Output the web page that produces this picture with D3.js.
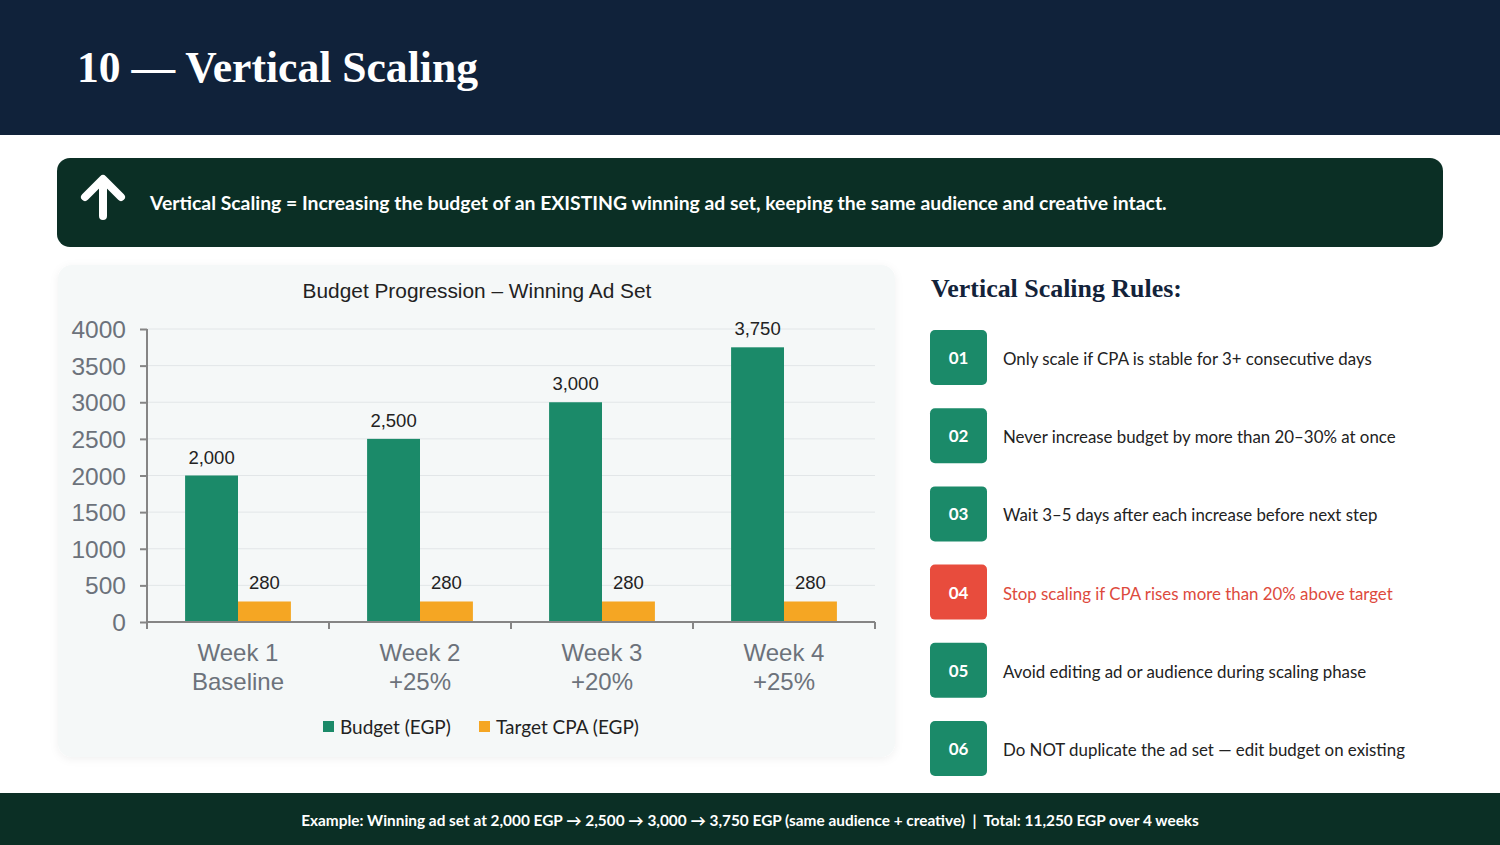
<!DOCTYPE html>
<html>
<head>
<meta charset="utf-8">
<script src="https://cdn.jsdelivr.net/npm/d3@7/dist/d3.min.js"></script>
<style>
  html, body { margin: 0; padding: 0; background: #ffffff; }
  svg { display: block; }
</style>
</head>
<body>
<svg id="slide" width="1500" height="845"></svg>
<script>
// ---------------- DATA ----------------
const weeks = ["Week 1", "Week 2", "Week 3", "Week 4"];
const steps = ["Baseline", "+25%", "+20%", "+25%"];
const budget = [2000, 2500, 3000, 3750];
const targetCPA = [280, 280, 280, 280];
const yTicks = [0, 500, 1000, 1500, 2000, 2500, 3000, 3500, 4000];
const seriesNames = ["Budget (EGP)", "Target CPA (EGP)"];
const ruleNumbers = ["01", "02", "03", "04", "05", "06"];
const ruleTexts = [
  "Only scale if CPA is stable for 3+ consecutive days",
  "Never increase budget by more than 20\u201330% at once",
  "Wait 3\u20135 days after each increase before next step",
  "Stop scaling if CPA rises more than 20% above target",
  "Avoid editing ad or audience during scaling phase",
  "Do NOT duplicate the ad set \u2014 edit budget on existing"
];
const warnRule = [false, false, false, true, false, false];
const slideTitle = "10 \u2014 Vertical Scaling";
const bannerText = "Vertical Scaling = Increasing the budget of an EXISTING winning ad set, keeping the same audience and creative intact.";
const chartTitle = "Budget Progression \u2013 Winning Ad Set";
const rulesTitle = "Vertical Scaling Rules:";
const footerText = "Example: Winning ad set at 2,000 EGP \u2192 2,500 \u2192 3,000 \u2192 3,750 EGP (same audience + creative)  |  Total: 11,250 EGP over 4 weeks";

// ---------------- STYLE ----------------
const C = {
  navy: "#10223a", dark: "#0b2f25", panel: "#f5f8f8",
  green: "#1b8a69", orange: "#f5a623", red: "#e84c3d", redText: "#dd4a3d",
  grid: "#e2e6e8", axis: "#858585", tick: "#6c727b", text: "#222222"
};
const serif = "'Liberation Serif', 'DejaVu Serif', serif";
const sans = "'Liberation Sans', Arial, sans-serif";
const cal = "Lato, 'Open Sans', sans-serif";

const svg = d3.select("#slide");

function fit(sel, target) {
  const n = sel.node();
  const w = n.getComputedTextLength();
  const fs = parseFloat(sel.attr("font-size"));
  if (w > 0) sel.attr("font-size", fs * target / w);
  return sel;
}

// defs
const defs = svg.append("defs");
const f = defs.append("filter").attr("id", "shadow").attr("x", "-5%").attr("y", "-5%").attr("width", "110%").attr("height", "112%");
f.append("feDropShadow").attr("dx", 0).attr("dy", 2).attr("stdDeviation", 4).attr("flood-color", "#000").attr("flood-opacity", 0.06);

// ---------------- HEADER ----------------
svg.append("rect").attr("x", 0).attr("y", 0).attr("width", 1500).attr("height", 135).attr("fill", C.navy);
fit(svg.append("text").attr("x", 77).attr("y", 82).attr("font-family", serif).attr("font-weight", "bold")
  .attr("font-size", 42).attr("fill", "#ffffff").text(slideTitle), 401);

// ---------------- BANNER ----------------
svg.append("rect").attr("x", 57).attr("y", 158).attr("width", 1386).attr("height", 89).attr("rx", 13).attr("fill", C.dark);
svg.append("path").attr("d", "M103,216 L103,180 M85,197 L103,179 L121,197")
  .attr("fill", "none").attr("stroke", "#ffffff").attr("stroke-width", 8)
  .attr("stroke-linecap", "round").attr("stroke-linejoin", "round");
fit(svg.append("text").attr("x", 150).attr("y", 210).attr("font-family", cal).attr("font-weight", "bold")
  .attr("font-size", 19).attr("fill", "#ffffff").text(bannerText), 1018);

// ---------------- CHART PANEL ----------------
svg.append("rect").attr("x", 58).attr("y", 265).attr("width", 837).attr("height", 492).attr("rx", 14)
  .attr("fill", C.panel).attr("filter", "url(#shadow)");
fit(svg.append("text").attr("x", 477).attr("y", 298).attr("text-anchor", "middle").attr("font-family", sans)
  .attr("font-size", 20).attr("fill", C.text).text(chartTitle), 349);

const plot = { left: 147, right: 875, top: 329, bottom: 622 };
const x = d3.scaleBand().domain(weeks).range([plot.left, plot.right]).paddingInner(0).paddingOuter(0);
const xs = d3.scaleBand().domain([0, 1]).range([0, x.bandwidth()]).paddingInner(0).paddingOuter(0.72);
const y = d3.scaleLinear().domain([0, 4000]).range([plot.bottom, plot.top]);

const g = svg.append("g");
// gridlines
g.append("g").selectAll("line").data(yTicks.filter(d => d > 0)).join("line")
  .attr("x1", plot.left).attr("x2", plot.right).attr("y1", d => y(d)).attr("y2", d => y(d))
  .attr("stroke", C.grid).attr("stroke-width", 1);

// bars
const rows = weeks.map((w, i) => ({ week: w, vals: [budget[i], targetCPA[i]] }));
const grp = g.append("g").selectAll("g").data(rows).join("g").attr("transform", d => `translate(${x(d.week)},0)`);
grp.selectAll("rect").data(d => d.vals.map((v, k) => ({ v, k }))).join("rect")
  .attr("x", d => xs(d.k)).attr("width", xs.bandwidth())
  .attr("y", d => y(d.v)).attr("height", d => y(0) - y(d.v))
  .attr("fill", d => d.k === 0 ? C.green : C.orange);
grp.selectAll("text.val").data(d => d.vals.map((v, k) => ({ v, k }))).join("text").attr("class", "val")
  .attr("x", d => xs(d.k) + xs.bandwidth() / 2).attr("y", d => y(d.v) - 12)
  .attr("text-anchor", "middle").attr("font-family", sans).attr("font-size", 18.5).attr("fill", C.text)
  .text(d => d3.format(",")(d.v));

// y axis
const yAxis = g.append("g").attr("transform", `translate(${plot.left},0)`)
  .call(d3.axisLeft(y).tickValues(yTicks).tickSize(7).tickPadding(14).tickFormat(d3.format("d")));
yAxis.select(".domain").attr("stroke", C.axis).attr("stroke-width", 2).attr("d", `M0,${plot.top}V${plot.bottom}`);
yAxis.selectAll(".tick line").attr("stroke", C.axis).attr("stroke-width", 2);
yAxis.selectAll(".tick text").attr("font-family", sans).attr("font-size", 24.5).attr("fill", C.tick).attr("dy", "0.35em");

// x axis
const xAxis = g.append("g").attr("transform", `translate(0,${plot.bottom})`);
xAxis.append("line").attr("x1", plot.left).attr("x2", plot.right).attr("stroke", C.axis).attr("stroke-width", 2);
const bounds = weeks.map(w => x(w)).concat([x(weeks[weeks.length - 1]) + x.bandwidth()]);
xAxis.selectAll("line.tk").data(bounds).join("line").attr("class", "tk")
  .attr("x1", d => d).attr("x2", d => d).attr("y1", 0).attr("y2", 7).attr("stroke", C.axis).attr("stroke-width", 2);
const xl = xAxis.selectAll("text.cat").data(weeks).join("text").attr("class", "cat")
  .attr("text-anchor", "middle").attr("font-family", sans).attr("font-size", 24).attr("fill", C.tick);
xl.append("tspan").attr("x", d => x(d) + x.bandwidth() / 2).attr("y", 39).text(d => d);
xl.append("tspan").attr("x", d => x(d) + x.bandwidth() / 2).attr("y", 68).text((d, i) => steps[i]);

// legend
const legend = svg.append("g");
const legX = [323, 479];
seriesNames.forEach((n, i) => {
  legend.append("rect").attr("x", legX[i]).attr("y", 721).attr("width", 11).attr("height", 11)
    .attr("fill", i === 0 ? C.green : C.orange);
  legend.append("text").attr("x", legX[i] + 17).attr("y", 734).attr("font-family", cal)
    .attr("font-size", 19).attr("fill", C.text).text(n);
});

// ---------------- RULES ----------------
fit(svg.append("text").attr("x", 931).attr("y", 297).attr("font-family", serif).attr("font-weight", "bold")
  .attr("font-size", 26).attr("fill", "#13233a").text(rulesTitle), 251);

const ry = d3.scaleBand().domain(ruleNumbers).range([330, 330 + 78.2 * 6]).paddingInner(0).paddingOuter(0);
const rg = svg.append("g").selectAll("g").data(ruleNumbers).join("g")
  .attr("transform", d => `translate(930,${ry(d)})`);
rg.append("rect").attr("width", 57).attr("height", 55).attr("rx", 5)
  .attr("fill", (d, i) => warnRule[i] ? C.red : C.green);
rg.append("text").attr("x", 28.5).attr("y", 34).attr("text-anchor", "middle").attr("font-family", cal)
  .attr("font-weight", "bold").attr("font-size", 17).attr("fill", "#ffffff").text(d => d);
const rt = rg.append("text").attr("x", 73).attr("y", 35).attr("font-family", cal).attr("font-size", 16.5)
  .attr("fill", (d, i) => warnRule[i] ? C.redText : C.text).text((d, i) => ruleTexts[i]);
// common size fitted from the first rule line
const first = rt.filter((d, i) => i === 0);
const w0 = first.node().getComputedTextLength();
rt.attr("font-size", 16.5 * 369 / w0);

// ---------------- FOOTER ----------------
svg.append("rect").attr("x", 0).attr("y", 793).attr("width", 1500).attr("height", 52).attr("fill", C.dark);
fit(svg.append("text").attr("x", 750).attr("y", 826).attr("text-anchor", "middle").attr("font-family", cal)
  .attr("font-weight", "bold").attr("font-size", 15).attr("fill", "#ffffff").attr("xml:space", "preserve")
  .style("white-space", "pre").text(footerText), 899);
</script>
</body>
</html>
